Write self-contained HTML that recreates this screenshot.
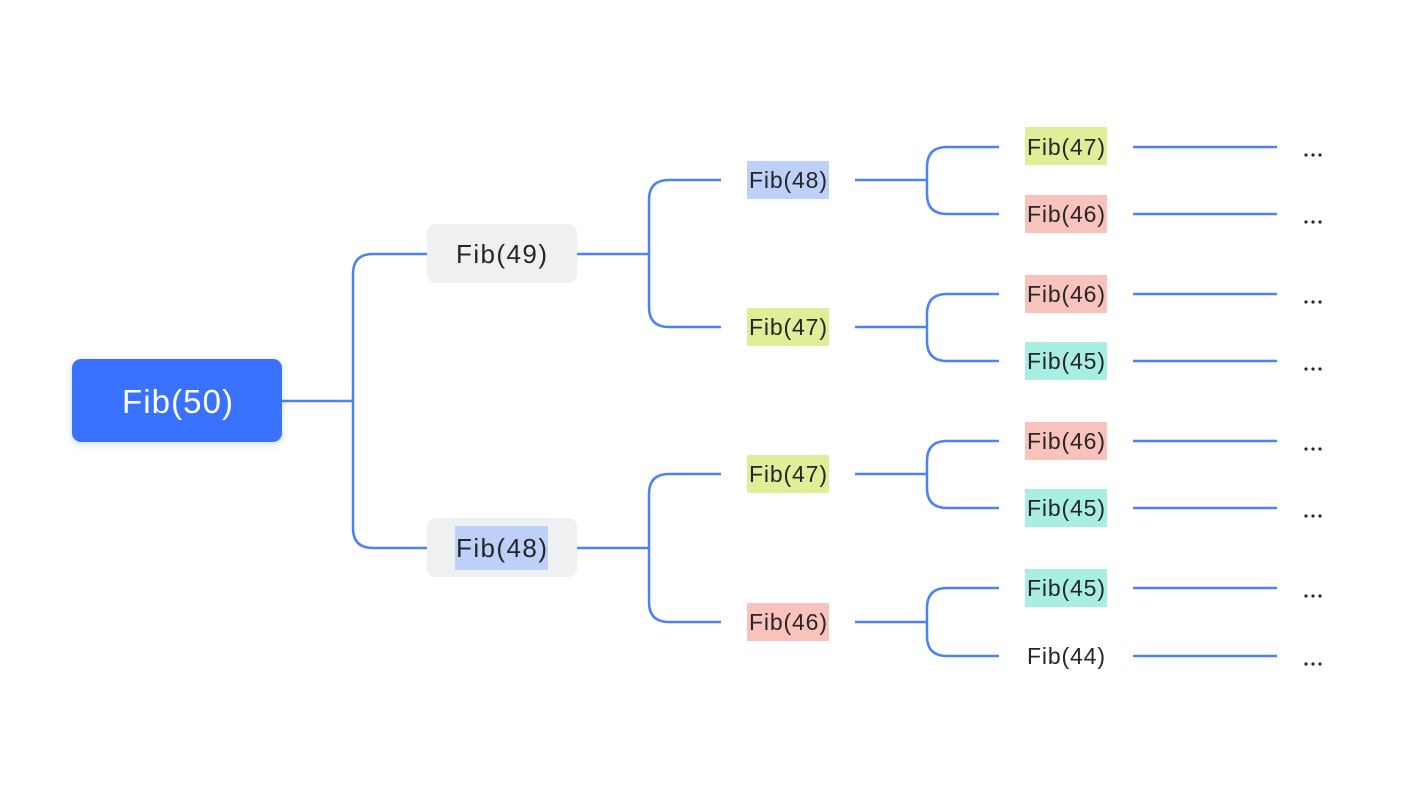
<!DOCTYPE html>
<html><head><meta charset="utf-8"><style>
html,body{margin:0;padding:0;background:#fff;}
svg{display:block;}
text{font-family:"Liberation Sans",sans-serif;fill:#262626;}
</style></head><body>
<svg width="1427" height="797" viewBox="0 0 1427 797" xmlns="http://www.w3.org/2000/svg">
<defs>
<filter id="sh" x="-20%" y="-30%" width="140%" height="160%">
<feDropShadow dx="0" dy="2" stdDeviation="4" flood-color="#3a73ff" flood-opacity="0.25"/>
</filter>
</defs>
<g fill="none" stroke="#4d82f6" stroke-width="2.5">
<!-- root -->
<path d="M282 401 H353"/>
<path d="M427 254 H373 Q353 254 353 274 V528 Q353 548 373 548 H427"/>
<!-- level1 -->
<path d="M577 254 H649"/>
<path d="M721 180 H669 Q649 180 649 200 V307 Q649 327 669 327 H721"/>
<path d="M577 548 H649"/>
<path d="M721 474 H669 Q649 474 649 494 V602 Q649 622 669 622 H721"/>
<!-- level2 -->
<path d="M855 180 H927"/><path d="M999 147 H947 Q927 147 927 167 V194 Q927 214 947 214 H999"/>
<path d="M855 327 H927"/><path d="M999 294 H947 Q927 294 927 314 V341 Q927 361 947 361 H999"/>
<path d="M855 474 H927"/><path d="M999 441 H947 Q927 441 927 461 V488 Q927 508 947 508 H999"/>
<path d="M855 622 H927"/><path d="M999 588 H947 Q927 588 927 608 V636 Q927 656 947 656 H999"/>
<!-- level3 -->
<path d="M1133 147 H1277"/><path d="M1133 214 H1277"/>
<path d="M1133 294 H1277"/><path d="M1133 361 H1277"/>
<path d="M1133 441 H1277"/><path d="M1133 508 H1277"/>
<path d="M1133 588 H1277"/><path d="M1133 656 H1277"/>
</g>
<!-- root box -->
<rect x="72" y="359" width="210" height="83" rx="9" fill="#3872ff" filter="url(#sh)"/>
<text x="122" y="413" font-size="33" textLength="111" style="fill:#fff">Fib(50)</text>
<!-- level1 -->
<rect x="427" y="224" width="150" height="59" rx="9" fill="#eff0f2"/>
<text x="456" y="263" font-size="26" textLength="91">Fib(49)</text>
<rect x="427" y="518" width="150" height="59" rx="9" fill="#eff0f2"/>
<rect x="455" y="526" width="93" height="44" fill="#bcd0fa"/>
<text x="456" y="557" font-size="26" textLength="91">Fib(48)</text>
<!-- level2 -->
<g font-size="23">
<rect x="747" y="161" width="82" height="38" fill="#bcd0fa"/><text x="749" y="188" textLength="78">Fib(48)</text>
<rect x="747" y="308" width="82" height="38" fill="#e0ee98"/><text x="749" y="335" textLength="78">Fib(47)</text>
<rect x="747" y="455" width="82" height="38" fill="#e0ee98"/><text x="749" y="482" textLength="78">Fib(47)</text>
<rect x="747" y="603" width="82" height="38" fill="#fac2bc"/><text x="749" y="630" textLength="78">Fib(46)</text>
<!-- level3 -->
<rect x="1025" y="127" width="82" height="38" fill="#e0ee98"/><text x="1027" y="155" textLength="78">Fib(47)</text>
<rect x="1025" y="195" width="82" height="38" fill="#fac2bc"/><text x="1027" y="222" textLength="78">Fib(46)</text>
<rect x="1025" y="275" width="82" height="38" fill="#fac2bc"/><text x="1027" y="302" textLength="78">Fib(46)</text>
<rect x="1025" y="342" width="82" height="38" fill="#a9eee3"/><text x="1027" y="369" textLength="78">Fib(45)</text>
<rect x="1025" y="422" width="82" height="38" fill="#fac2bc"/><text x="1027" y="449" textLength="78">Fib(46)</text>
<rect x="1025" y="489" width="82" height="38" fill="#a9eee3"/><text x="1027" y="516" textLength="78">Fib(45)</text>
<rect x="1025" y="569" width="82" height="38" fill="#a9eee3"/><text x="1027" y="596" textLength="78">Fib(45)</text>
<text x="1027" y="664" textLength="78">Fib(44)</text>
</g>
<g fill="#262626">
<circle cx="1306" cy="155" r="1.6"/><circle cx="1313" cy="155" r="1.6"/><circle cx="1320" cy="155" r="1.6"/>
<circle cx="1306" cy="222" r="1.6"/><circle cx="1313" cy="222" r="1.6"/><circle cx="1320" cy="222" r="1.6"/>
<circle cx="1306" cy="302" r="1.6"/><circle cx="1313" cy="302" r="1.6"/><circle cx="1320" cy="302" r="1.6"/>
<circle cx="1306" cy="369" r="1.6"/><circle cx="1313" cy="369" r="1.6"/><circle cx="1320" cy="369" r="1.6"/>
<circle cx="1306" cy="449" r="1.6"/><circle cx="1313" cy="449" r="1.6"/><circle cx="1320" cy="449" r="1.6"/>
<circle cx="1306" cy="516" r="1.6"/><circle cx="1313" cy="516" r="1.6"/><circle cx="1320" cy="516" r="1.6"/>
<circle cx="1306" cy="596" r="1.6"/><circle cx="1313" cy="596" r="1.6"/><circle cx="1320" cy="596" r="1.6"/>
<circle cx="1306" cy="664" r="1.6"/><circle cx="1313" cy="664" r="1.6"/><circle cx="1320" cy="664" r="1.6"/>
</g>
</svg>
</body></html>
